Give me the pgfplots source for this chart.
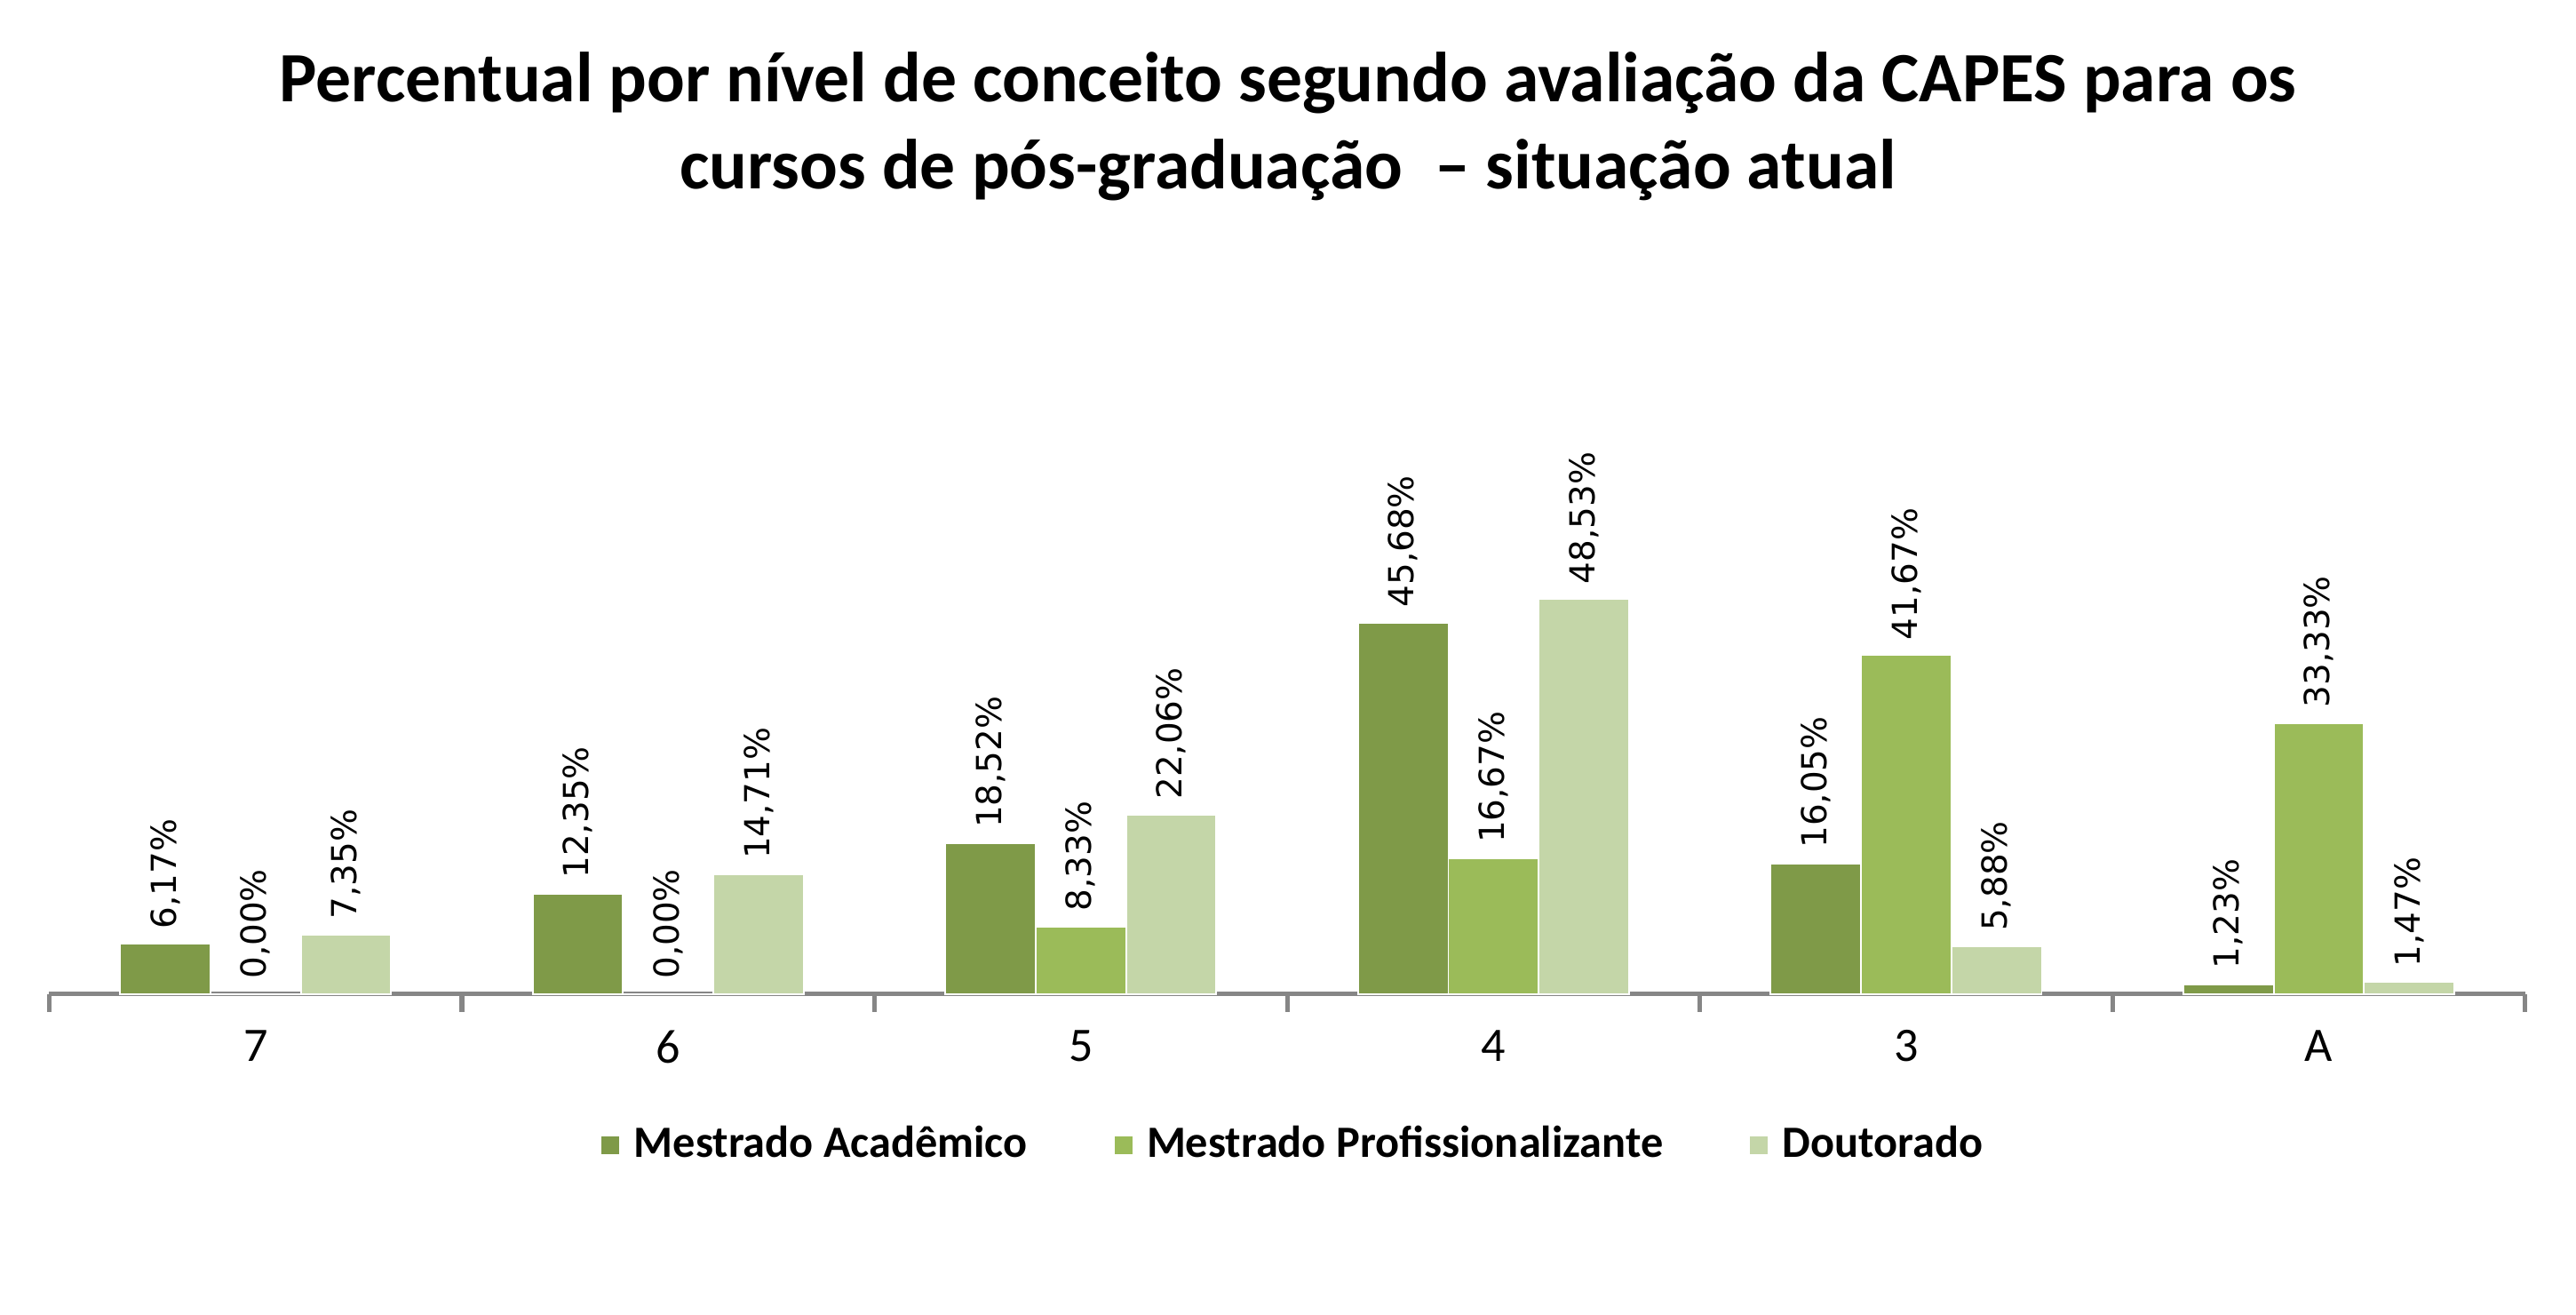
\documentclass[border=0pt]{standalone}
\usepackage{pgfplots}
\pgfplotsset{compat=1.18}
\usepackage{fontspec}
\setmainfont{Carlito}
\newfontfamily\labfont{DejaVu Sans}
\definecolor{cA}{HTML}{7F9A48}
\definecolor{cB}{HTML}{9BBB59}
\definecolor{cC}{HTML}{C4D6A8}
\definecolor{axgray}{HTML}{868686}
\begin{document}
\begin{tikzpicture}
\path[use as bounding box] (0,0) rectangle (16cm,8.163cm);
\begin{axis}[
  at={(0.306cm,1.990cm)}, anchor=south west,
  scale only axis, width=15.378cm, height=3.031cm,
  ybar=0pt, bar width=0.219,
  xmin=-0.5, xmax=5.5, ymin=0, ymax=60,
  axis x line*=bottom, axis y line=none,
  x axis line style={axgray, line width=0.8pt, -},
  xtick={0,1,2,3,4,5},
  xticklabels={7,6,5,4,3,A},
  minor xtick={-0.5,0.5,1.5,2.5,3.5,4.5,5.5},
  major tick length=0pt,
  minor tick length=0.11cm,
  tick align=outside,
  minor tick style={axgray, line width=0.8pt},
  x tick label style={font=\fontsize{8.5}{10}\selectfont, yshift=-0.1cm},
  /pgf/number format/assume math mode=true,
  nodes near coords={\pgfmathprintnumber[fixed,fixed zerofill,precision=2,use comma,assume math mode=true]{\pgfplotspointmeta}\%},
  nodes near coords align={anchor=west},
  every node near coord/.append style={rotate=90, anchor=west, inner sep=0pt, xshift=0.09cm, font=\labfont\fontsize{6.1}{7}\selectfont, text=black},
  legend style={at={(0.504,-0.31)}, anchor=center, draw=none, legend columns=-1,
     font=\bfseries\fontsize{7.9}{10}\selectfont,
     /tikz/every even column/.append style={column sep=0.46cm},
     /tikz/every odd column/.append style={column sep=0.01cm}},
  legend image code/.code={\fill[#1] (0cm,-0.06cm) rectangle (0.12cm,0.06cm);},
  clip=false,
]
\addplot[fill=cA, draw=white, line width=0.3pt] coordinates {(0,6.17) (1,12.35) (2,18.52) (3,45.68) (4,16.05) (5,1.23)};
\addplot[fill=cB, draw=white, line width=0.3pt] coordinates {(0,0) (1,0) (2,8.33) (3,16.67) (4,41.67) (5,33.33)};
\addplot[fill=cC, draw=white, line width=0.3pt] coordinates {(0,7.35) (1,14.71) (2,22.06) (3,48.53) (4,5.88) (5,1.47)};
\legend{Mestrado Acadêmico, Mestrado Profissionalizante, Doutorado}
\end{axis}
\node[anchor=base, font=\bfseries\fontsize{12.5}{15}\selectfont] at (8.0cm,7.531cm) {Percentual por nível de conceito segundo avaliação da CAPES para os};
\node[anchor=base, font=\bfseries\fontsize{12.5}{15}\selectfont] at (8.0cm,6.990cm) {cursos de pós-graduação~ – situação atual};
\end{tikzpicture}
\end{document}
